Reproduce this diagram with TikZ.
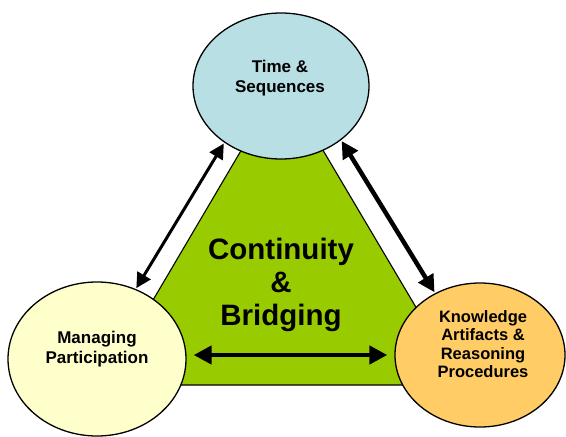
\documentclass[tikz,border=0pt]{standalone}
\usepackage{fontspec}
\setmainfont{Liberation Sans}
\usetikzlibrary{shapes.geometric,arrows.meta}
\definecolor{tblue}{HTML}{B8DFE3}
\definecolor{lyellow}{HTML}{FFFFCC}
\definecolor{rorange}{HTML}{FFCC66}
\definecolor{tgreen}{HTML}{99CC00}
\tikzset{
  oval/.style={ellipse, draw=black, line width=1.3pt, inner sep=0pt},
  lbl/.style={align=center, font=\bfseries\fontsize{17}{20}\selectfont},
  dblarrow/.style={{Triangle[length=#1,width=#1]}-{Triangle[length=#1,width=#1]}},
}
\begin{document}
\begin{tikzpicture}[x=1pt,y=-1pt]
\useasboundingbox (0,0) rectangle (566,437);
% triangle
\coordinate (ta) at (282,81);
\coordinate (tl) at (103,385);
\coordinate (tr) at (462,385);
\fill[tgreen, draw=black, line width=1.1pt] (ta) -- (tr) -- (tl) -- cycle;
% ellipses
\node[oval, fill=tblue, minimum width=176pt, minimum height=146pt] (top) at (281,86) {};
\node[oval, fill=lyellow, minimum width=178pt, minimum height=154pt] (left) at (97,359) {};
\node[oval, fill=rorange, minimum width=170pt, minimum height=144pt] (right) at (480,355) {};
% texts
\node[lbl] (toptxt) at (280,78) {Time \&\\Sequences};
\node[lbl] (lefttxt) at (97,349) {Managing\\Participation};
\node[lbl, font=\bfseries\fontsize{16.5}{18.3}\selectfont] (righttxt) at (483,344) {Knowledge\\Artifacts \&\\Reasoning\\Procedures};
\node[align=center, font=\bfseries\fontsize{29.5}{33}\selectfont] (center) at (281,285) {Continuity\\\&\\Bridging};
% arrows
\draw[dblarrow=15pt, line width=3pt, shorten <=1pt, shorten >=1pt] (top.225) -- (left.61);
\draw[dblarrow=17pt, line width=4.5pt, shorten <=1pt, shorten >=1pt] (top.318) -- (right.126);
\draw[dblarrow=18pt, line width=4.5pt, shorten <=7pt, shorten >=7pt] (left.east |- right.west) -- (right.west);
\end{tikzpicture}
\end{document}
